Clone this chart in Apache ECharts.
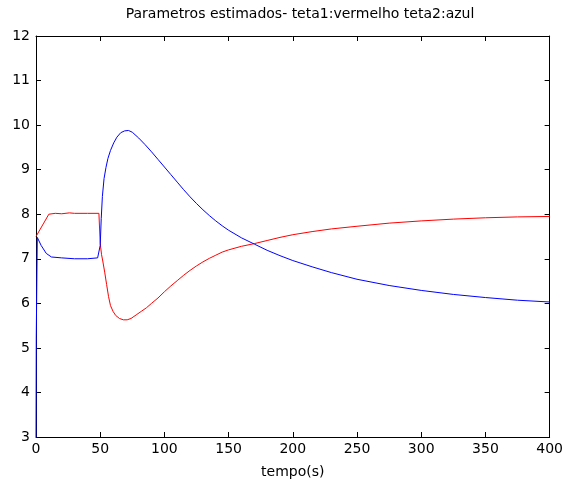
<!DOCTYPE html>
<html>
<head>
<meta charset="utf-8">
<script src="https://cdn.jsdelivr.net/npm/echarts@6/dist/echarts.min.js"></script>
<style>html,body{margin:0;padding:0;background:#fff;}#c{width:566px;height:484px;}</style>
</head>
<body>
<div id="c"></div>
<script>
var titleText = 'Parametros estimados- teta1:vermelho teta2:azul';
var xLabel = 'tempo(s)';
var xTicks = [0, 50, 100, 150, 200, 250, 300, 350, 400];
var yTicks = [3, 4, 5, 6, 7, 8, 9, 10, 11, 12];

var t1 = [0, 3, 6, 10, 15, 20, 26, 30, 40, 49, 50, 51, 52, 53.5, 55, 56.5, 58, 60, 62, 65, 68, 71, 74, 78, 82, 86, 90, 95, 100, 105, 110, 115, 120, 125, 130, 135, 140, 145, 150, 160, 170, 180, 190, 200, 215, 230, 250, 275, 300, 325, 350, 375, 400];
var teta1 = [7.5, 7.65, 7.8, 8.0, 8.02, 8.01, 8.03, 8.02, 8.02, 8.02, 7.35, 7.1, 6.95, 6.7, 6.42, 6.15, 5.95, 5.82, 5.73, 5.66, 5.63, 5.63, 5.66, 5.74, 5.82, 5.9, 6.0, 6.12, 6.26, 6.39, 6.51, 6.63, 6.74, 6.84, 6.93, 7.01, 7.08, 7.15, 7.2, 7.28, 7.34, 7.41, 7.48, 7.54, 7.61, 7.67, 7.73, 7.8, 7.85, 7.89, 7.92, 7.94, 7.95];

var t2 = [0, 0.2, 1, 4, 8, 12, 20, 30, 40, 48, 49.5, 50, 50.8, 51.7, 53, 54.5, 56, 58, 60.5, 63, 66, 69, 72, 75, 80, 85, 90, 95, 100, 105, 110, 115, 120, 125, 130, 135, 140, 145, 150, 160, 170, 180, 190, 200, 215, 230, 250, 275, 300, 325, 350, 375, 400];
var teta2 = [3, 5.25, 7.48, 7.3, 7.12, 7.04, 7.02, 7.0, 7.0, 7.02, 7.05, 7.3, 7.9, 8.4, 8.8, 9.05, 9.25, 9.43, 9.6, 9.73, 9.83, 9.87, 9.88, 9.84, 9.71, 9.56, 9.4, 9.23, 9.06, 8.89, 8.72, 8.55, 8.39, 8.24, 8.1, 7.97, 7.85, 7.74, 7.64, 7.47, 7.33, 7.19, 7.07, 6.96, 6.82, 6.69, 6.54, 6.4, 6.29, 6.2, 6.13, 6.07, 6.03];

function pairs(xs, ys) { return xs.map(function (x, i) { return [x, ys[i]]; }); }

var font = 'DejaVu Sans, sans-serif';
var fs = 14;
var axisLineStyle = { color: '#000', width: 1 };
function xAxisDef(pos, showLabel) {
  return {
    type: 'value', position: pos, min: xTicks[0], max: xTicks[xTicks.length - 1], interval: 50,
    axisLine: { show: true, onZero: false, lineStyle: axisLineStyle },
    axisTick: { show: true, inside: true, length: 5, lineStyle: axisLineStyle },
    axisLabel: { show: showLabel, color: '#000', fontFamily: font, fontSize: fs, margin: 5 },
    splitLine: { show: false }
  };
}
function yAxisDef(pos, showLabel) {
  return {
    type: 'value', position: pos, min: yTicks[0], max: yTicks[yTicks.length - 1], interval: 1,
    axisLine: { show: true, onZero: false, lineStyle: axisLineStyle },
    axisTick: { show: true, inside: true, length: 5, lineStyle: axisLineStyle },
    axisLabel: { show: showLabel, color: '#000', fontFamily: font, fontSize: fs, margin: 6 },
    splitLine: { show: false }
  };
}
var xb = xAxisDef('bottom', true);
xb.name = xLabel; xb.nameLocation = 'middle'; xb.nameGap = 28;
xb.nameTextStyle = { color: '#000', fontFamily: font, fontSize: fs };

var chart = echarts.init(document.getElementById('c'), null, { renderer: 'canvas' });
chart.setOption({
  animation: false,
  backgroundColor: '#fff',
  title: {
    text: titleText, left: 295, top: 2, textAlign: 'center',
    textStyle: { color: '#000', fontFamily: font, fontSize: fs, fontWeight: 'normal' }
  },
  grid: { left: 36, top: 36, width: 517, height: 405, containLabel: false },
  xAxis: [xb, xAxisDef('top', false)],
  yAxis: [yAxisDef('left', true), yAxisDef('right', false)],
  series: [
    { type: 'line', name: 'teta1', data: pairs(t1, teta1), showSymbol: false, lineStyle: { color: '#ff0000', width: 1 }, itemStyle: { color: '#ff0000' }, z: 2 },
    { type: 'line', name: 'teta2', data: pairs(t2, teta2), showSymbol: false, lineStyle: { color: '#0000ff', width: 1 }, itemStyle: { color: '#0000ff' }, z: 3 }
  ]
});
</script>
</body>
</html>
